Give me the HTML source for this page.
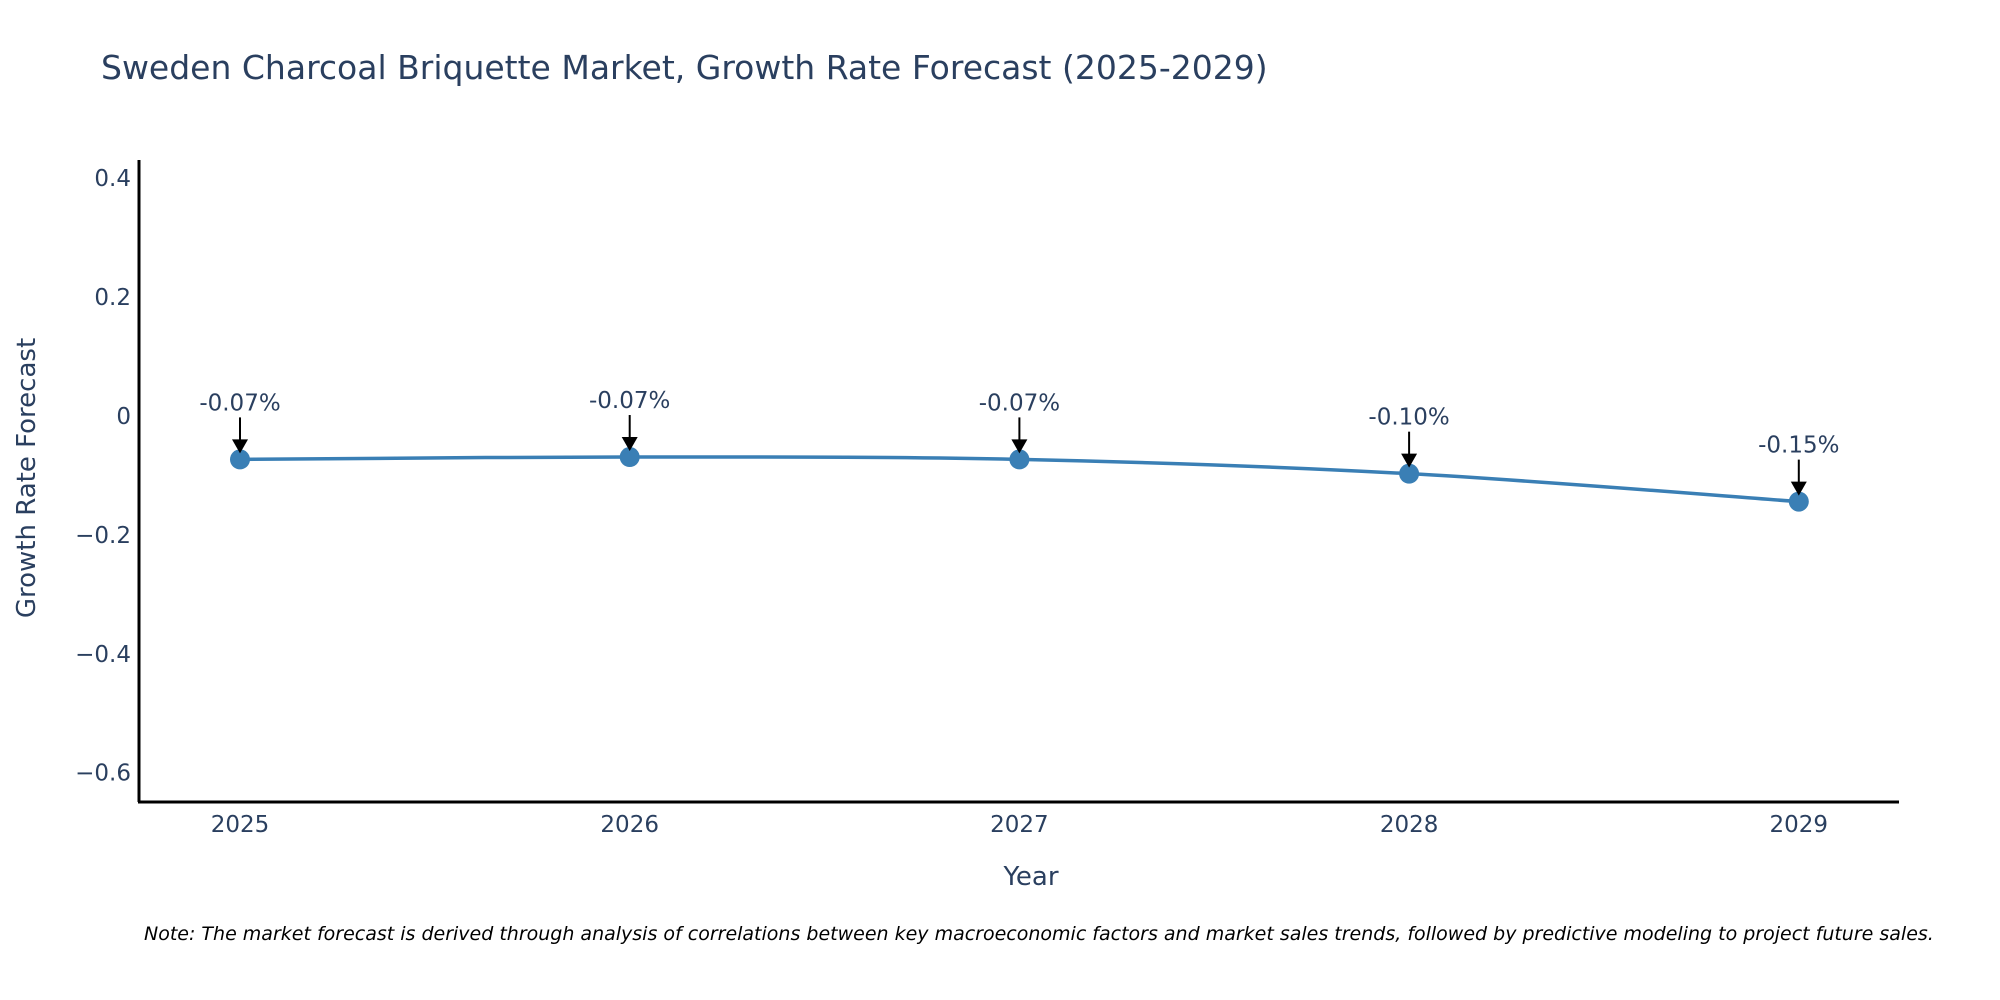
<!DOCTYPE html>
<html><head><meta charset="utf-8"><style>
body{margin:0;background:#fff;}
svg{display:block;font-family:"DejaVu Sans","Liberation Sans",sans-serif;}
</style></head><body>
<svg id="chart" width="2000" height="1000" viewBox="0 0 2000 1000">
<text x="101" y="79" font-size="33" fill="#2a3f5f">Sweden Charcoal Briquette Market, Growth Rate Forecast (2025-2029)</text>
<g id="yticks"></g>
<g id="xticks"></g>
<line x1="139" y1="160" x2="139" y2="802" stroke="#000" stroke-width="3"/>
<line x1="138" y1="802" x2="1899" y2="802" stroke="#000" stroke-width="3"/>
<path id="line" fill="none" stroke="#3a7fb5" stroke-width="3.5"/>
<g id="points"></g>
<g id="annots"></g>
<text x="1031" y="885" font-size="26" fill="#2a3f5f" text-anchor="middle">Year</text>
<text transform="translate(35,478) rotate(-90)" font-size="26" fill="#2a3f5f" text-anchor="middle">Growth Rate Forecast</text>
<text x="144" y="940" font-size="19" font-style="italic" fill="#000">Note: The market forecast is derived through analysis of correlations between key macroeconomic factors and market sales trends, followed by predictive modeling to project future sales.</text>
</svg>
<script>
const years = ["2025","2026","2027","2028","2029"];
const values = [-0.073, -0.069, -0.073, -0.097, -0.144];
const labels = ["-0.07%","-0.07%","-0.07%","-0.10%","-0.15%"];
const yTicks = [0.4, 0.2, 0, -0.2, -0.4, -0.6];
const yTickLabels = ["0.4","0.2","0","\u22120.2","\u22120.4","\u22120.6"];

const NS="http://www.w3.org/2000/svg";
function xScale(i){return 240 + i*389.7;}
function yScale(v){return 416 - v*594.5;}
function mk(t,a,p){const e=document.createElementNS(NS,t);for(const k in a)e.setAttribute(k,a[k]);p.appendChild(e);return e;}

const yt=document.getElementById('yticks');
yTicks.forEach((v,i)=>{
  const t=mk('text',{x:131,y:yScale(v)+8,'font-size':23,fill:'#2a3f5f','text-anchor':'end'},yt);
  
  
  t.textContent=yTickLabels[i];
});
const xt=document.getElementById('xticks');
years.forEach((y,i)=>{
  const t=mk('text',{x:xScale(i),y:832,'font-size':23,fill:'#2a3f5f','text-anchor':'middle'},xt);
  
  
  t.textContent=y;
});
const pts=values.map((v,i)=>[xScale(i),yScale(v)]);
let d=`M${pts[0][0]},${pts[0][1]}`;
for(let i=0;i<pts.length-1;i++){
  const p0=pts[Math.max(0,i-1)],p1=pts[i],p2=pts[i+1],p3=pts[Math.min(pts.length-1,i+2)];
  const c1=[p1[0]+(p2[0]-p0[0])/6,p1[1]+(p2[1]-p0[1])/6];
  const c2=[p2[0]-(p3[0]-p1[0])/6,p2[1]-(p3[1]-p1[1])/6];
  d+=` C${c1[0]},${c1[1]} ${c2[0]},${c2[1]} ${p2[0]},${p2[1]}`;
}
document.getElementById('line').setAttribute('d',d);
const pg=document.getElementById('points'), ag=document.getElementById('annots');
pts.forEach((p,i)=>{
  const c=mk('circle',{cx:p[0],cy:p[1],r:10,fill:'#3a7fb5'},pg);
  
  
  const l=mk('line',{x1:p[0],y1:p[1]-42,x2:p[0],y2:p[1]-16,stroke:'#000','stroke-width':2},ag);
  
  
  const h=mk('polygon',{points:`${p[0]-8},${p[1]-20} ${p[0]+8},${p[1]-20} ${p[0]},${p[1]-6}`,fill:'#000'},ag);
  
  
  const t=mk('text',{x:p[0],y:p[1]-49,'font-size':23,fill:'#2a3f5f','text-anchor':'middle'},ag);
  
  
  t.textContent=labels[i];
});
</script>
</body></html>
